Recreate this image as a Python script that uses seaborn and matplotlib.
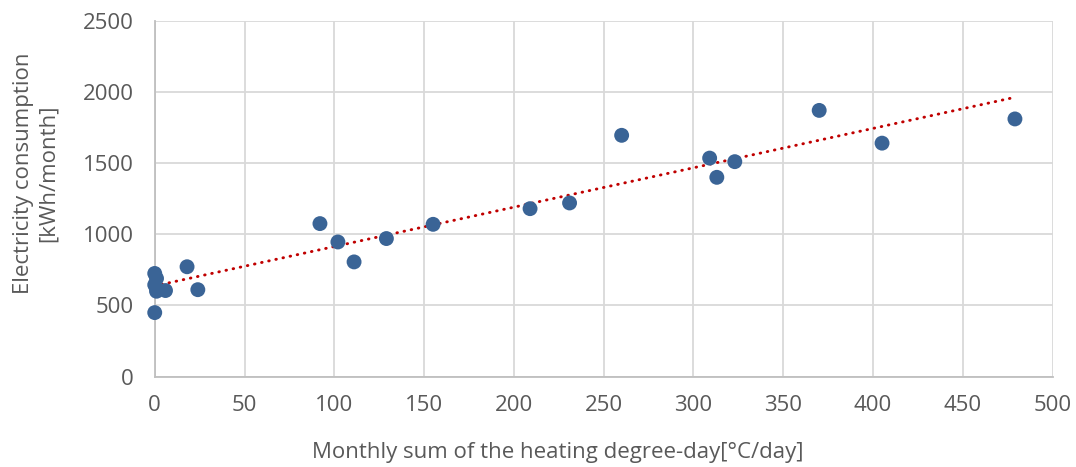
import numpy as np
import pandas as pd
import matplotlib
matplotlib.use('Agg')
import matplotlib.pyplot as plt
import seaborn as sns

# Dados (graus-dia x consumo)
hdd = [0, 1, 0, 1, 6, 0, 1, 18, 24, 92, 102, 111, 129, 155,
       209, 231, 260, 309, 313, 323, 370, 405, 479]
consumo = [725, 690, 645, 600, 605, 450, 620, 772, 611, 1075, 946, 806, 970, 1070,
           1180, 1220, 1695, 1535, 1400, 1510, 1870, 1640, 1810]

x_ticks = [0, 50, 100, 150, 200, 250, 300, 350, 400, 450, 500]
y_ticks = [0, 500, 1000, 1500, 2000, 2500]

x_label = 'Monthly sum of the heating degree-day[°C/day]'
y_label = 'Electricity consumption\n[kWh/month]'

dt = pd.DataFrame({'HDD': hdd, 'Consumo': consumo})

sns.set_style('white')
plt.rcParams['font.family'] = ['Open Sans', 'DejaVu Sans']
cinza = '#595959'

fig = plt.figure(figsize=(10.76, 4.67), dpi=100)
ax = fig.add_axes([0.1438, 0.1934, 0.8345, 0.7623])

# Linha de tendência linear pontilhada
sns.regplot(x='HDD', y='Consumo', data=dt, scatter=False, ci=None, ax=ax,
            line_kws=dict(color='#C00000', lw=2.1, linestyle=(0, (0.2, 2.3)),
                          dash_capstyle='round', zorder=3))
# Pontos
sns.scatterplot(x='HDD', y='Consumo', data=dt, ax=ax, color='#3A6496',
                s=115, edgecolor='none', zorder=4, clip_on=False)

ax.set_xlim(0, 500)
ax.set_ylim(0, 2500)
ax.set_xticks(x_ticks)
ax.set_yticks(y_ticks)
ax.grid(True, color='#D9D9D9', lw=1.3)
ax.set_axisbelow(True)
for s in ['top', 'right']:
    ax.spines[s].set_visible(False)
for s in ['left', 'bottom']:
    ax.spines[s].set_color('#BFBFBF')
    ax.spines[s].set_linewidth(1.3)
ax.tick_params(axis='both', length=0, labelsize=16, labelcolor=cinza)
ax.tick_params(axis='x', pad=13)
ax.tick_params(axis='y', pad=15)

ax.set_xlabel(x_label, fontsize=16, color=cinza)
ax.set_ylabel(y_label, fontsize=16, color=cinza, linespacing=1.25)
ax.xaxis.set_label_coords(0.449, -0.214)
ax.xaxis.label.set_va('center')
ax.yaxis.set_label_coords(-0.132, 0.572)
ax.yaxis.label.set_va('center')

plt.savefig('out.png', dpi=100)
plt.close()
